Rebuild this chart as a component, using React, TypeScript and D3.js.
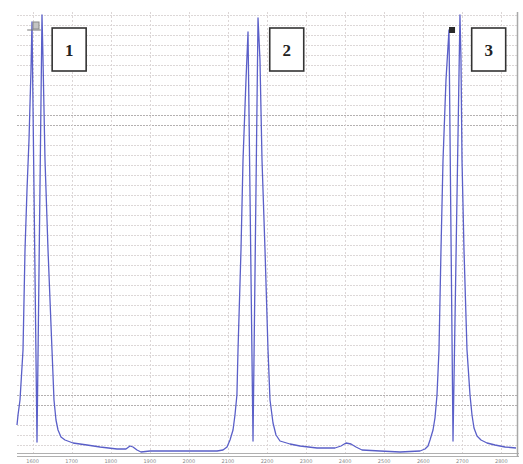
import React, { useEffect, useRef } from "react";
import * as d3 from "d3";

// tick labels along the bottom (too blurred to read exactly in the scan)
const tickValues = [1600, 1700, 1800, 1900, 2000, 2100, 2200, 2300, 2400, 2500, 2600, 2700, 2800];

// spectrum trace
const traceX = [
  1560, 1562.6, 1567.7, 1575.4, 1580.5, 1585.6, 1590.7, 1595.8, 1598.4, 1611.2,
  1624, 1626.6, 1631.7, 1639.4, 1649.6, 1654.7, 1659.8, 1665, 1672.6, 1682.9,
  1703.4, 1739.2, 1772.5, 1816, 1839, 1849.3, 1857, 1867.2, 1877.4, 1900.5,
  1985, 2072, 2087.4, 2097.6, 2105.3, 2113, 2118, 2123, 2125.8, 2133.4,
  2138.6, 2146.2, 2151.4, 2164.2, 2177, 2182, 2187.2, 2194.9, 2202.6, 2207.7,
  2215.4, 2223, 2233.3, 2258.9, 2284.5, 2328, 2374, 2389.4, 2402.2, 2415,
  2427.8, 2443.2, 2489.3, 2540.5, 2591.7, 2604.5, 2612.2, 2617.3, 2625, 2630,
  2635.2, 2640.3, 2645.4, 2650.6, 2658.2, 2665.9, 2676.2, 2694, 2696.6, 2699.2,
  2704.3, 2712, 2719.7, 2724.8, 2729.9, 2737.6, 2747.8, 2763.2, 2783.7, 2809.3,
  2837.4,
];
const traceY = [
  300, 400, 550, 1050, 2050, 2650, 3150, 3850, 4330, 130,
  4400, 3950, 2950, 2050, 1050, 550, 350, 250, 180, 150,
  120, 100, 80, 60, 60, 90, 80, 50, 30, 40,
  40, 40, 50, 80, 150, 250, 400, 600, 1050, 2050,
  2950, 3750, 4230, 140, 4370, 3950, 2950, 2050, 1050, 550,
  320, 200, 140, 110, 90, 70, 70, 90, 120, 110,
  80, 50, 40, 30, 40, 60, 90, 150, 250, 370,
  600, 1050, 2050, 2950, 3750, 4250, 140, 4400, 3950, 2950,
  2050, 1050, 600, 400, 270, 190, 150, 120, 100, 80,
  70,
];

// numbered peak labels: anchor x (data) for each box
const peakLabels = ["1", "2", "3"];
const peakBoxX = [1650, 2207, 2724];

// darker horizontal grid rows
const darkRows = [3400, 3300, 600, 500];

const App = () => {
  const ref = useRef(null);

  useEffect(() => {
    const svg = d3.select(ref.current);
    svg.selectAll("*").remove();

    const width = 523;
    const height = 464;
    const left = 17;
    const right = 517;
    const top = 15;
    const bottom = 455;

    svg.attr("width", width).attr("height", height);
    svg.append("rect").attr("width", width).attr("height", height).attr("fill", "#fff");

    const x = d3.scaleLinear().domain([1560, 2840]).range([left, right]);
    const y = d3.scaleLinear().domain([0, 4400]).range([bottom, top]);

    // horizontal grid (fine dotted rows)
    const rows = d3.range(100, 4401, 100);
    svg
      .append("g")
      .selectAll("line")
      .data(rows)
      .enter()
      .append("line")
      .attr("x1", left)
      .attr("x2", right)
      .attr("y1", (d) => Math.round(y(d)) + 0.5)
      .attr("y2", (d) => Math.round(y(d)) + 0.5)
      .attr("stroke", (d) => (darkRows.includes(d) ? "#b4b0b0" : "#dcd7d7"))
      .attr("stroke-width", 1)
      .attr("stroke-dasharray", "2,1");

    // vertical grid
    svg
      .append("g")
      .selectAll("line")
      .data(tickValues)
      .enter()
      .append("line")
      .attr("x1", (d) => Math.round(x(d)) + 0.5)
      .attr("x2", (d) => Math.round(x(d)) + 0.5)
      .attr("y1", 12)
      .attr("y2", bottom)
      .attr("stroke", "#dcd6d6")
      .attr("stroke-dasharray", "2,2");

    // frame: double bottom rule and right edge
    svg.append("line").attr("x1", left).attr("x2", right + 2).attr("y1", 453.5).attr("y2", 453.5).attr("stroke", "#b0b0b0");
    svg.append("line").attr("x1", left).attr("x2", right + 2).attr("y1", 456.5).attr("y2", 456.5).attr("stroke", "#b0b0b0");
    svg.append("line").attr("x1", right + 0.5).attr("x2", right + 0.5).attr("y1", 12).attr("y2", 457).attr("stroke", "#a8a8a8").attr("stroke-width", 1.5);

    // tick labels
    svg
      .append("g")
      .selectAll("text")
      .data(tickValues)
      .enter()
      .append("text")
      .attr("x", (d) => x(d))
      .attr("y", 463)
      .attr("text-anchor", "middle")
      .style("font-family", "DejaVu Sans")
      .style("font-size", "5px")
      .attr("fill", "#8a8a8a")
      .text((d) => d);

    // the trace
    const pts = traceX.map((v, i) => [v, traceY[i]]);
    const line = d3
      .line()
      .x((d) => x(d[0]))
      .y((d) => y(d[1]));
    svg
      .append("path")
      .datum(pts)
      .attr("fill", "none")
      .attr("stroke", "#5a5fc8")
      .attr("stroke-width", 1.3)
      .attr("stroke-linejoin", "round")
      .attr("d", line);

    // cursor markers at peaks 1 and 3
    svg.append("line").attr("x1", x(1586)).attr("x2", x(1621)).attr("y1", y(4250)).attr("y2", y(4250)).attr("stroke", "#777");
    svg.append("rect").attr("x", x(1601)).attr("y", y(4330)).attr("width", 6).attr("height", 7).attr("fill", "#c4c4c4").attr("stroke", "#888");
    svg.append("rect").attr("x", x(2666)).attr("y", y(4280)).attr("width", 6).attr("height", 6).attr("fill", "#2a2a2a");

    // numbered boxes
    const boxes = svg
      .append("g")
      .selectAll("g")
      .data(peakLabels)
      .enter()
      .append("g")
      .attr("transform", (d, i) => `translate(${x(peakBoxX[i])},28)`);
    boxes
      .append("rect")
      .attr("x", 0)
      .attr("y", 0)
      .attr("width", 34)
      .attr("height", 43)
      .attr("fill", "#fff")
      .attr("stroke", "#333")
      .attr("stroke-width", 1.6);
    boxes
      .append("text")
      .attr("x", 17)
      .attr("y", 28)
      .attr("text-anchor", "middle")
      .style("font-family", "Liberation Serif")
      .style("font-size", "17px")
      .style("font-weight", "bold")
      .attr("fill", "#222")
      .text((d) => d);
  }, []);

  return (
    <div style={{ position: "absolute", left: 0, top: 0 }}>
      <svg ref={ref} style={{ display: "block" }} />
    </div>
  );
};

export default App;
